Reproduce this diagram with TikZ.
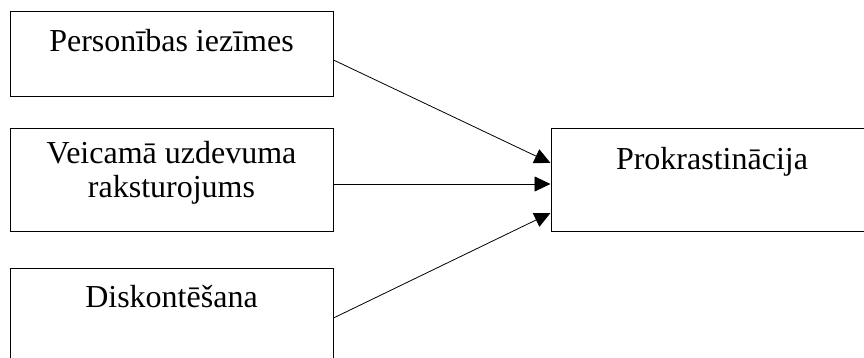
\documentclass[tikz,border=0pt]{standalone}
\usepackage{fontspec}
\setmainfont{Liberation Serif}
\usetikzlibrary{calc,positioning,arrows.meta}
\tikzset{
	%Define standard arrow tip
	>={Triangle[length=16pt,width=15pt]},
	%Define style for boxes
	kaste/.style={
		rectangle,
		draw=black, line width=1pt,
		minimum width=323pt,
		minimum height=102pt,
		inner sep=0pt},
	%Define style for texts in boxes
	uzraksts/.style={
		anchor=base,
		font=\fontsize{32}{34}\selectfont,
		align=center,
		inner sep=0pt},
	% Define arrow style
	bulta/.style={
		->,
		line width=0.8pt}
}

\begin{document}
\begin{tikzpicture}[x=1pt,y=-1pt]
	\clip (0,0) rectangle (864,358);
	% node Personibas iezimes
	\node[kaste, minimum height=85pt] (pers) at (171.5,54.5) {};
	% node Veicama uzdevuma raksturojums
	\node[kaste, below=31pt of pers] (uzd) {};
	% node Diskontesana
	\node[kaste, below=36pt of uzd] (disk) {};
	% node Prokrastinacija
	\node[kaste, minimum width=322pt, right=217pt of uzd] (prok) {};
	% texts
	\node[uzraksts] (tpers) at ($(pers.north)+(0,40)$) {Personības iezīmes};
	\node[uzraksts] (tuzd) at ($(uzd.north)+(0,69)$) {Veicamā uzdevuma\\raksturojums};
	\node[uzraksts] (tdisk) at ($(disk.north)+(0,40)$) {Diskontēšana};
	\node[uzraksts] (tprok) at ($(prok.north)+(0,41)$) {Prokrastinācija};
	% arrows
	\draw[bulta] ($(pers.east)+(0,5.5)$) -- ($(prok.west)+(0,-17)$);
	\draw[bulta] ($(uzd.east)+(0,4)$) -- ($(prok.west)+(0,4)$);
	\draw[bulta] ($(disk.east)+(0,-1)$) -- ($(prok.west)+(0,33)$);
\end{tikzpicture}
\end{document}
